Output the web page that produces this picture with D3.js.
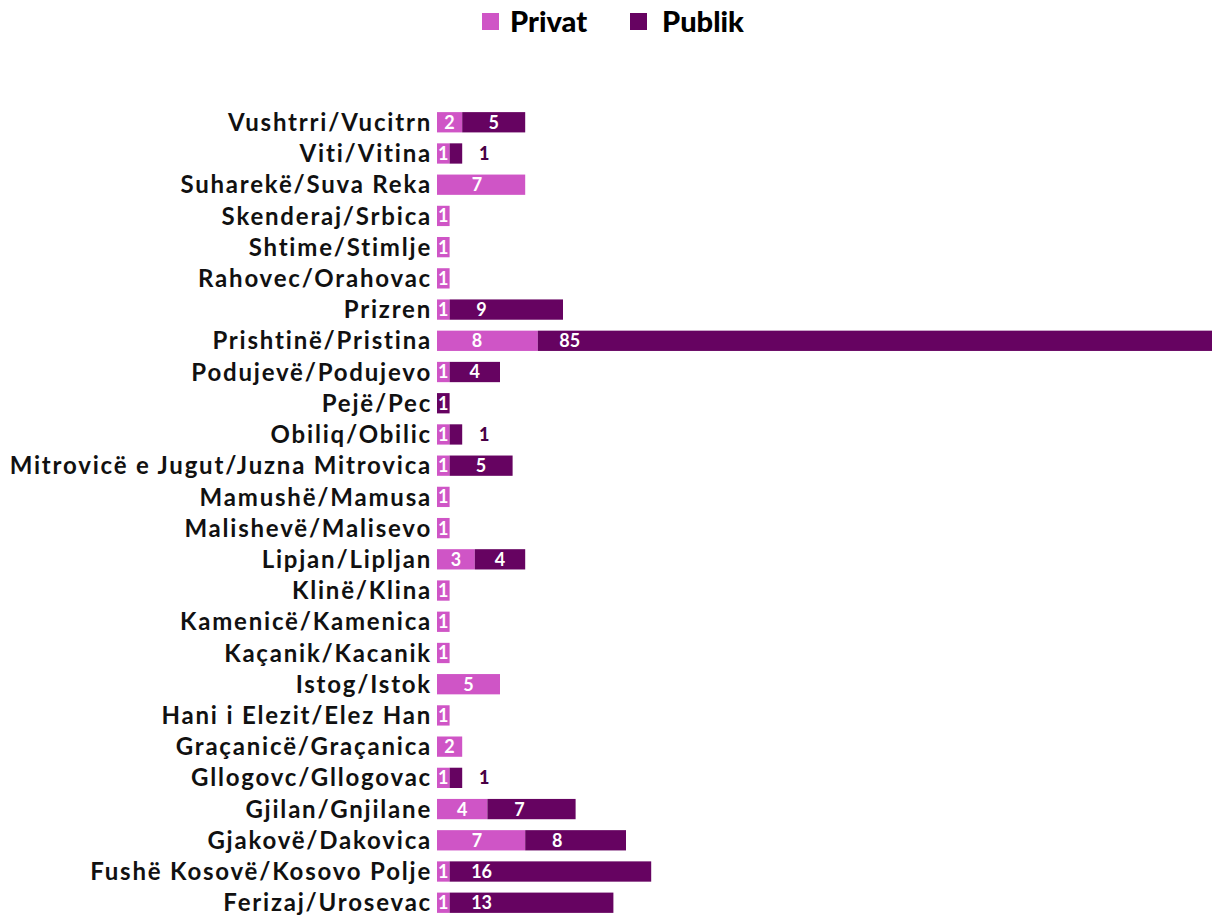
<!DOCTYPE html>
<html>
<head>
<meta charset="utf-8">
<script src="https://cdn.jsdelivr.net/npm/d3@7"></script>
<style>
  body { margin: 0; background: #fff; }
  svg { display: block; }
  .CatText { font-family: Lato, "DejaVu Sans", sans-serif; font-weight: 700; font-size: 24px; letter-spacing: 1.8px; fill: #111; }
  .BarText { font-family: Lato, sans-serif; font-weight: 700; font-size: 18px; fill: #fff; }
  .OutText { font-family: Lato, sans-serif; font-weight: 900; font-size: 18px; fill: #4a0046; }
  .LegText { font-family: Lato, sans-serif; font-weight: 900; font-size: 29px; fill: #000; letter-spacing: 0px; }
</style>
</head>
<body>
<div id="svgContainer"></div>
<script>
// data, top to bottom as in the picture
var categories = [
  "Vushtrri/Vucitrn", "Viti/Vitina", "Suharekë/Suva Reka", "Skenderaj/Srbica",
  "Shtime/Stimlje", "Rahovec/Orahovac", "Prizren", "Prishtinë/Pristina",
  "Podujevë/Podujevo", "Pejë/Pec", "Obiliq/Obilic", "Mitrovicë e Jugut/Juzna Mitrovica",
  "Mamushë/Mamusa", "Malishevë/Malisevo", "Lipjan/Lipljan", "Klinë/Klina",
  "Kamenicë/Kamenica", "Kaçanik/Kacanik", "Istog/Istok", "Hani i Elezit/Elez Han",
  "Graçanicë/Graçanica", "Gllogovc/Gllogovac", "Gjilan/Gnjilane", "Gjakovë/Dakovica",
  "Fushë Kosovë/Kosovo Polje", "Ferizaj/Urosevac"
];
var privat = [2, 1, 7, 1, 1, 1, 1, 8, 1, 0, 1, 1, 1, 1, 3, 1, 1, 1, 5, 1, 2, 1, 4, 7, 1, 1];
var publik = [5, 1, 0, 0, 0, 0, 9, 85, 4, 1, 1, 5, 0, 0, 4, 0, 0, 0, 0, 0, 0, 1, 7, 8, 16, 13];
var seriesNames = ["Privat", "Publik"];

var width = 1212;
var height = 917;
var colors = ["#cf55c6", "#660361"];
var barLeft = 437;
var pxPerUnit = 12.6;

var svgContainer = d3.select("#svgContainer")
  .append("svg")
  .attr("width", width)
  .attr("height", height);

var rows = categories.map(function (c, i) {
  return { name: c, privat: privat[i], publik: publik[i] };
});

var x = d3.scaleLinear()
  .domain([0, 100])
  .range([barLeft, barLeft + 100 * pxPerUnit]);

var y = d3.scaleBand()
  .domain(categories)
  .range([106.5, 918.5])
  .paddingInner(0.35)
  .paddingOuter(0.18);

var stack = d3.stack().keys(["privat", "publik"]);
var layers = stack(rows);

function isOutside(d, k) {
  return k === 1 && d.data.privat > 0 && d.data.publik <= 1;
}

// category labels
svgContainer.append("g")
  .selectAll("text")
  .data(rows)
  .enter()
  .append("text")
  .attr("class", "CatText")
  .attr("x", barLeft - 5)
  .attr("y", function (d) { return y(d.name) + y.bandwidth() / 2; })
  .attr("dy", "0.36em")
  .attr("text-anchor", "end")
  .text(function (d) { return d.name; });

// bars + labels for each series
layers.forEach(function (layer, k) {
  var g = svgContainer.append("g").attr("class", "Series" + k);
  var segs = layer.filter(function (d) { return d[1] - d[0] > 0; });

  g.selectAll("rect")
    .data(segs)
    .enter()
    .append("rect")
    .attr("x", function (d) { return x(d[0]); })
    .attr("y", function (d) { return y(d.data.name); })
    .attr("width", function (d) { return x(d[1]) - x(d[0]); })
    .attr("height", y.bandwidth())
    .attr("fill", colors[k]);

  g.selectAll("text")
    .data(segs)
    .enter()
    .append("text")
    .attr("class", function (d) { return isOutside(d, k) ? "OutText" : "BarText"; })
    .attr("x", function (d) {
      var w = x(d[1]) - x(d[0]);
      if (isOutside(d, k)) return x(d[1]) + 22;
      return x(d[0]) + Math.min(w / 2, k === 0 ? 40 : 32);
    })
    .attr("y", function (d) { return y(d.data.name) + y.bandwidth() / 2; })
    .attr("dy", "0.36em")
    .attr("text-anchor", "middle")
    .text(function (d) { return d[1] - d[0]; });
});

// legend
var legend = svgContainer.append("g").attr("class", "Legend");
var legSq = [482, 630];
var legTx = [510, 662];
seriesNames.forEach(function (s, k) {
  legend.append("rect")
    .attr("x", legSq[k])
    .attr("y", 13)
    .attr("width", 17)
    .attr("height", 17)
    .attr("fill", colors[k]);
  legend.append("text")
    .attr("class", "LegText")
    .attr("x", legTx[k])
    .attr("y", 32)
    .text(s);
});
</script>
</body>
</html>
